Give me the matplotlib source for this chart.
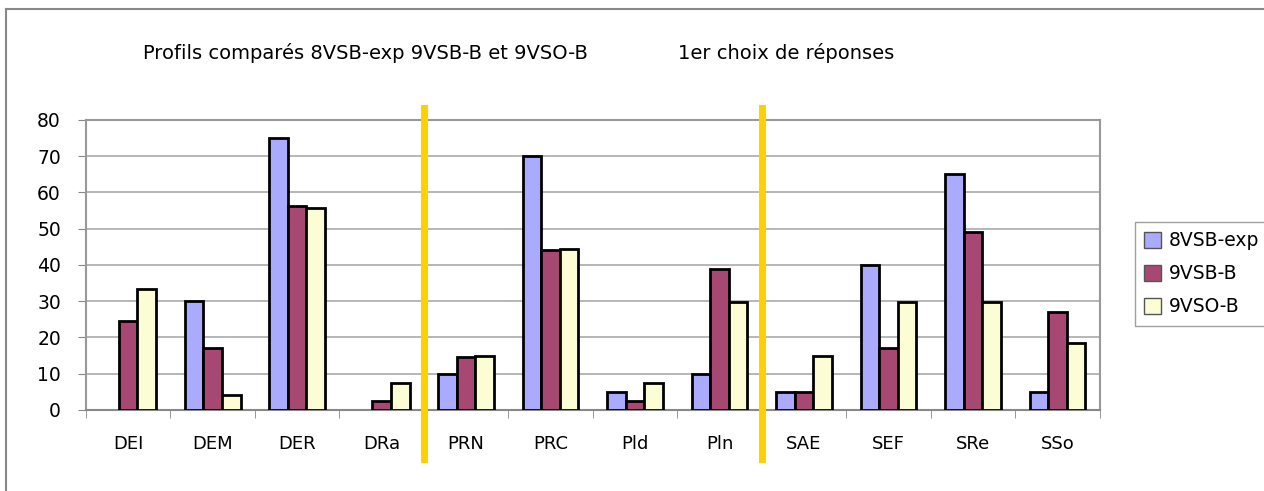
import numpy as np
import matplotlib
matplotlib.use("Agg")
import matplotlib.pyplot as plt
from matplotlib.lines import Line2D
from matplotlib.patches import Patch

# donnees
categories = ["DEI", "DEM", "DER", "DRa", "PRN", "PRC", "Pld", "Pln", "SAE", "SEF", "SRe", "SSo"]
series = ["8VSB-exp", "9VSB-B", "9VSO-B"]
v_8vsb_exp = [0, 30, 75, 0, 10, 70, 5, 10, 5, 40, 65, 5]
v_9vsb_b = [24.4, 17, 56.2, 2.5, 14.7, 44, 2.5, 39, 5, 17, 49, 27]
v_9vso_b = [33.4, 4, 55.6, 7.5, 14.9, 44.5, 7.5, 29.8, 15, 29.8, 29.8, 18.6]
separateurs = [3.5, 7.5]  # traits jaunes entre les groupes

couleurs = ["#AAAAFF", "#A64872", "#FCFDD4"]

fig = plt.figure(figsize=(12.64, 4.91), dpi=100)
ax = fig.add_axes([0.068, 0.165, 0.802, 0.591])

x = np.arange(len(categories))
w = 0.22
for k, (nom, vals) in enumerate(zip(series, [v_8vsb_exp, v_9vsb_b, v_9vso_b])):
    barres = ax.bar(x + (k - 1) * w, vals, width=w, color=couleurs[k], edgecolor="black",
                    linewidth=2, zorder=3)
    for b, v in zip(barres, vals):
        if v == 0:
            b.set_linewidth(0)  # barre vide: rien a dessiner

ax.set_xlim(-0.5, len(categories) - 0.5)
ax.set_ylim(0, 80)
ax.set_yticks(range(0, 81, 10))
ax.yaxis.grid(True, color="#AAAAAA", linewidth=1.2, zorder=0)
ax.set_xticks(x)
ax.set_xticklabels(categories, fontsize=13)
ax.tick_params(axis="x", length=0, pad=18)
ax.set_xticks(np.arange(-0.5, len(categories), 1), minor=True)
ax.tick_params(axis="x", which="minor", length=6, color="#888888", direction="out")
ax.tick_params(axis="y", labelsize=13.5, length=6, color="#888888", pad=12)
for s in ["top", "right", "left"]:
    ax.spines[s].set_color("#999999")
    ax.spines[s].set_linewidth(1.5)
ax.spines["bottom"].set_color("#888888")
ax.spines["bottom"].set_linewidth(1.5)

for s in separateurs:
    ax.axvline(s, ymin=-0.17, ymax=1.04, color="#FFD000", linewidth=5,
               clip_on=False, zorder=5)

poignees = [Patch(facecolor=c, edgecolor="#555555", linewidth=1) for c in couleurs]
leg = fig.legend(poignees, series, loc="upper left", bbox_to_anchor=(0.898, 0.548),
                 fontsize=13.5, frameon=True, fancybox=False, edgecolor="#888888",
                 handlelength=0.9, handleheight=0.9, handletextpad=0.4,
                 borderaxespad=0, labelspacing=0.75, borderpad=0.5)
leg.get_frame().set_linewidth(1)

fig.text(0.113, 0.893, "Profils comparés 8VSB-exp 9VSB-B et 9VSO-B", fontsize=14,
         va="center", ha="left")
fig.text(0.536, 0.893, "1er choix de réponses", fontsize=14, va="center", ha="left")

# cadre gris autour du graphique (haut et gauche)
fig.add_artist(Line2D([0.005, 1.0], [0.982, 0.982], color="#888888", linewidth=1.5))
fig.add_artist(Line2D([0.005, 0.005], [0.0, 0.982], color="#888888", linewidth=1.5))

fig.savefig("out.png", dpi=100, facecolor="white")
